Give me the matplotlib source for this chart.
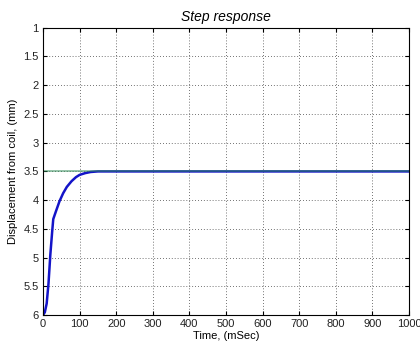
import numpy as np
import matplotlib
matplotlib.use("Agg")
import matplotlib.pyplot as plt

plt.rcParams['font.family'] = ['Liberation Sans', 'DejaVu Sans']

# step response samples (time in ms, displacement in mm)
t = [0, 5, 10, 15, 20, 25, 28, 35, 45, 55, 65, 78, 90, 100, 115, 130, 150, 180, 1000]
disp = [6.0, 5.95, 5.8, 5.45, 4.95, 4.55, 4.33, 4.2, 4.02, 3.88, 3.77, 3.67, 3.6, 3.56, 3.53, 3.51, 3.5, 3.5, 3.5]

# target position
ref_t = [0, 1000]
ref_y = [3.5, 3.5]

xticks = np.arange(0, 1001, 100)
yticks = [1, 1.5, 2, 2.5, 3, 3.5, 4, 4.5, 5, 5.5, 6]
ytick_labels = ["1", "1.5", "2", "2.5", "3", "3.5", "4", "4.5", "5", "5.5", "6"]

fig = plt.figure(figsize=(4.2, 3.47), dpi=100)
ax = fig.add_axes([0.1024, 0.092, 0.8716, 0.828])

ax.plot(t, disp, color="#1414c8", linewidth=1.8)
ax.plot(ref_t, ref_y, color="#2e8b57", linewidth=1.2, alpha=0.6)

ax.set_xlim(0, 1000)
ax.set_ylim(6, 1)
ax.set_xticks(xticks)
ax.set_yticks(yticks)
ax.set_yticklabels(ytick_labels)
ax.grid(True, linestyle=(0, (1, 2.5)), color="#444444", linewidth=0.6)
ax.tick_params(direction="in", top=True, right=True, labelsize=8, length=3, pad=3,
               labelcolor="#222222")

ax.set_title("Step response", fontsize=10, style="italic", pad=5)
ax.set_xlabel("Time, (mSec)", fontsize=8, labelpad=1)
ax.set_ylabel("Displacement from coil, (mm)", fontsize=8, labelpad=4)

fig.savefig("out.png", dpi=100)
